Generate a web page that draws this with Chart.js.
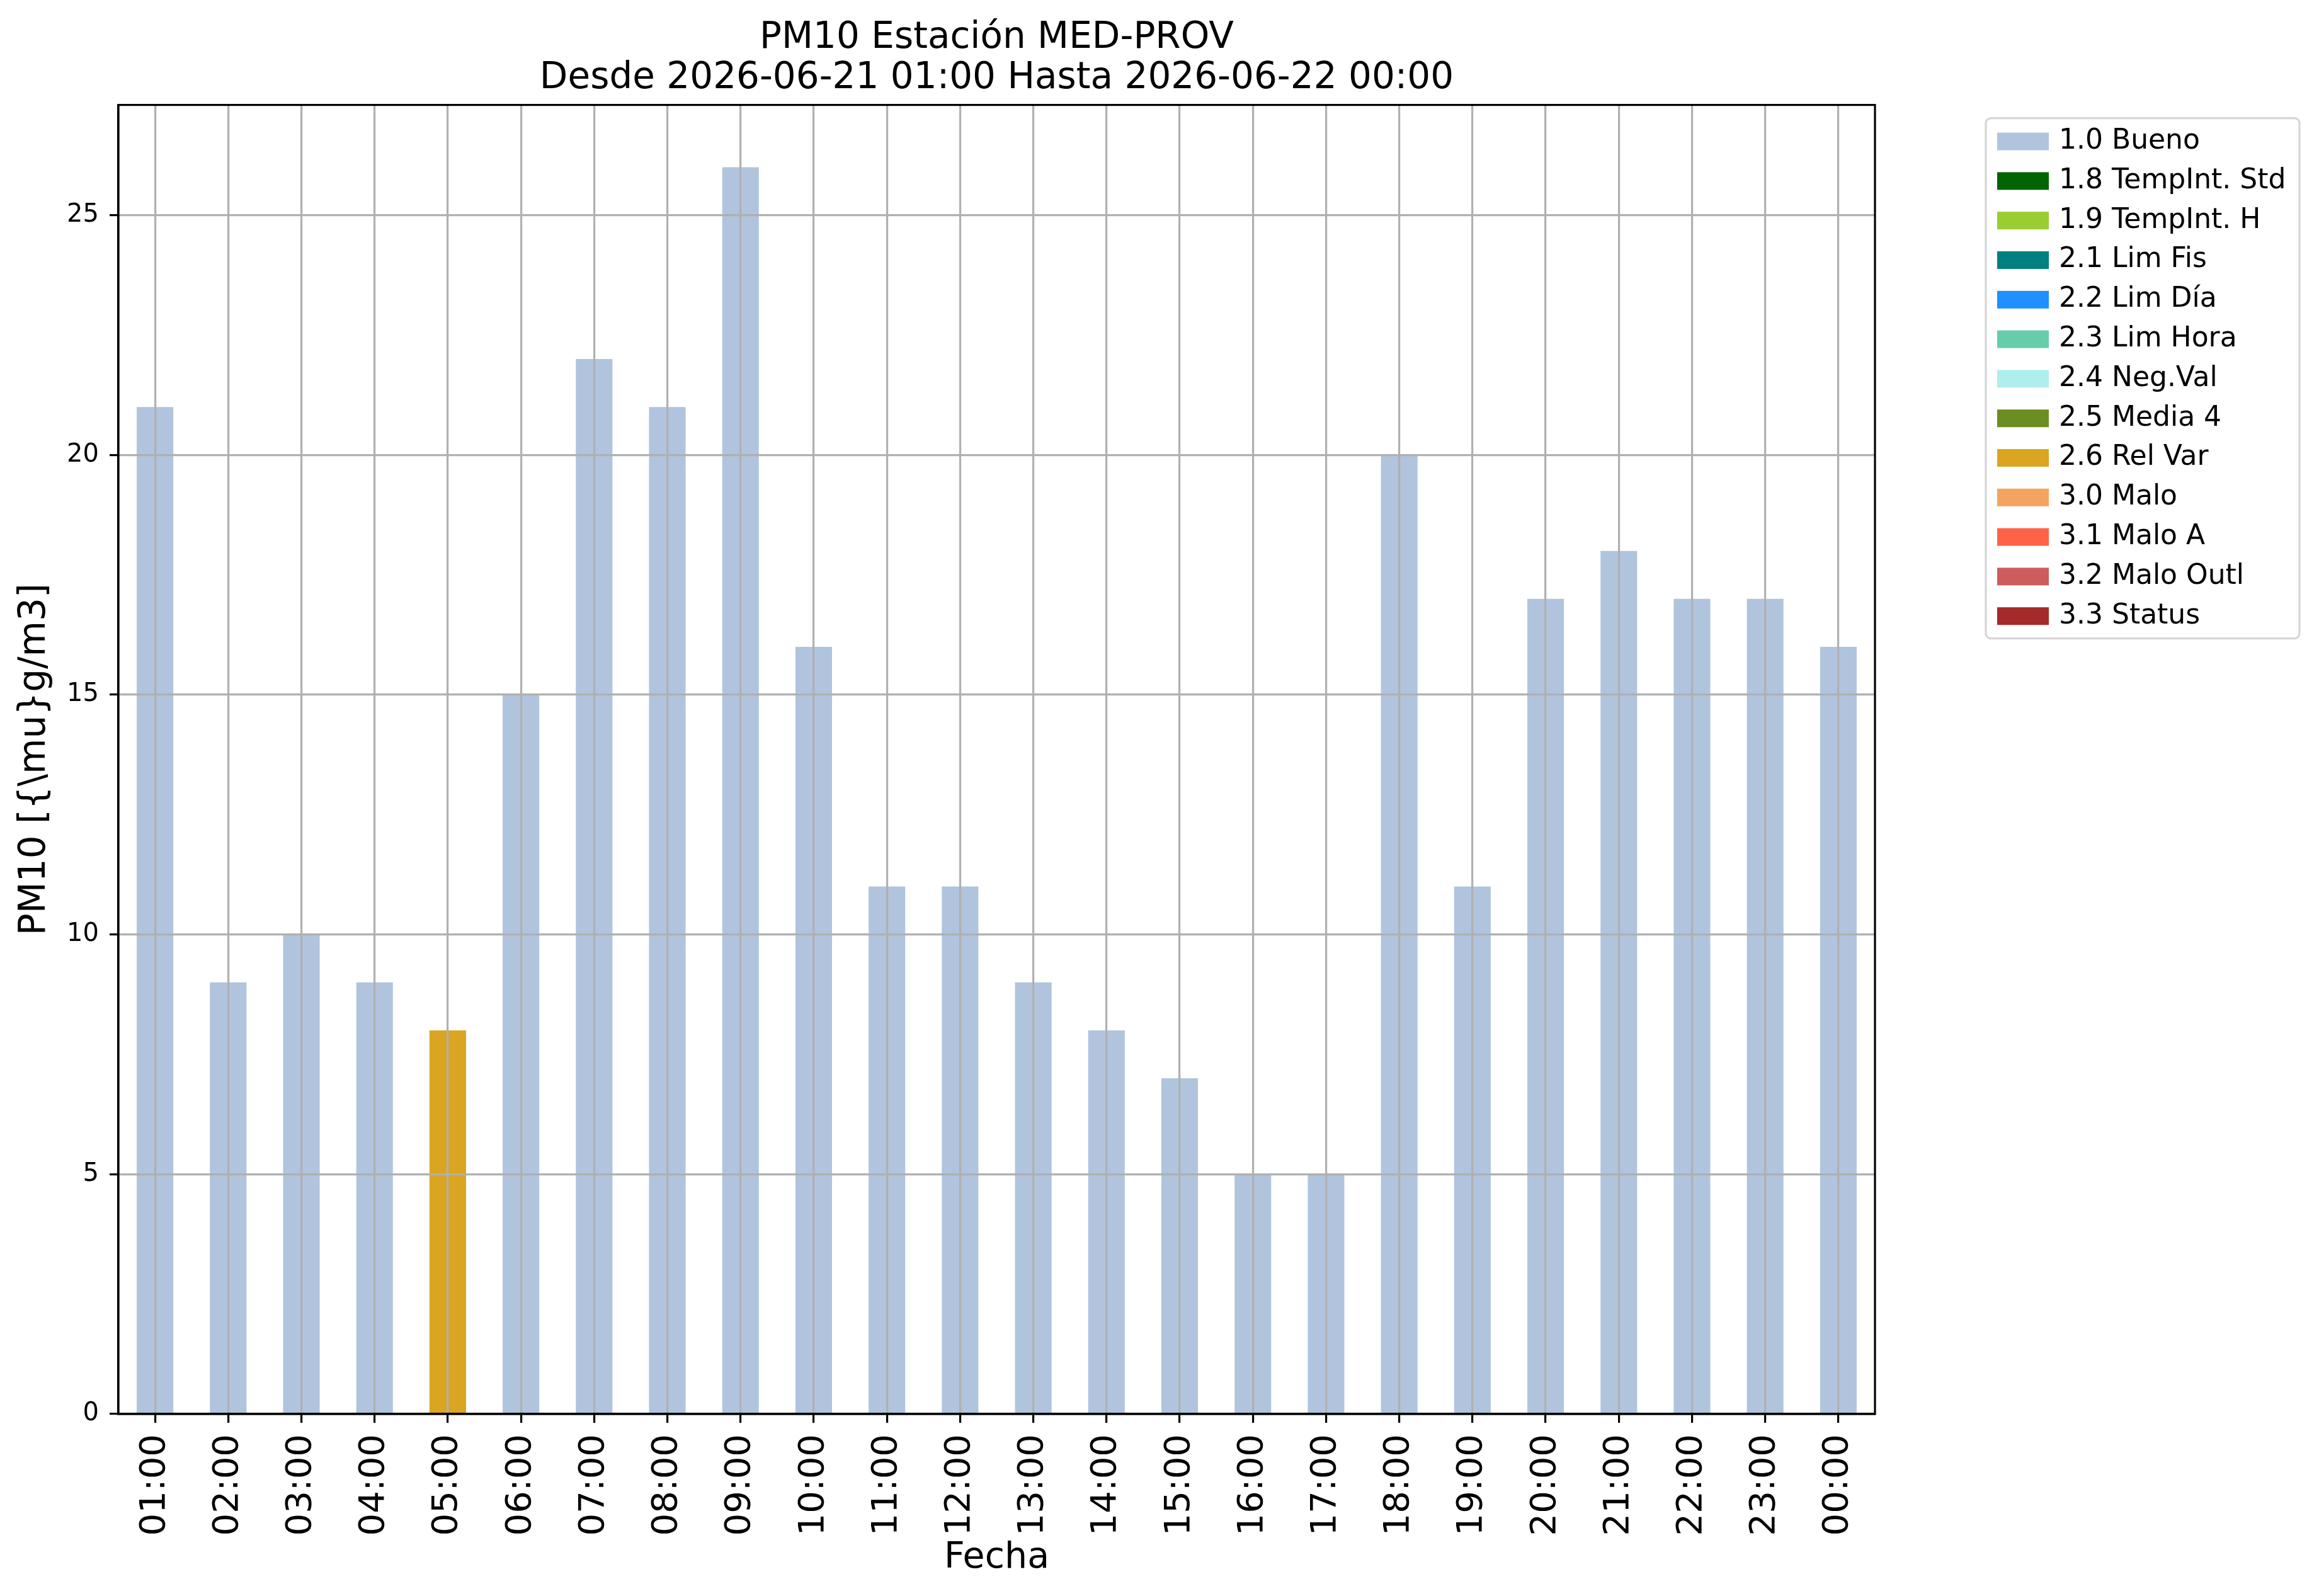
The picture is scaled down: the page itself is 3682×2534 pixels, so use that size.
<!DOCTYPE html>
<html>
<head>
<meta charset="utf-8">
<script src="https://cdn.jsdelivr.net/npm/chart.js@4.4.1/dist/chart.umd.min.js"></script>
<style>
  html, body { margin: 0; padding: 0; background: #fff; }
  canvas { display: block; }
</style>
</head>
<body>
<canvas id="grafico" width="3682" height="2534"></canvas>
<script>
// horas del día y valores horarios de PM10
const horas = ["01:00", "02:00", "03:00", "04:00", "05:00", "06:00", "07:00", "08:00",
  "09:00", "10:00", "11:00", "12:00", "13:00", "14:00", "15:00", "16:00", "17:00",
  "18:00", "19:00", "20:00", "21:00", "22:00", "23:00", "00:00"];
const valores = [21, 9, 10, 9, 8, 15, 22, 21, 26, 16, 11, 11, 9, 8, 7, 5, 5, 20, 11, 17, 18, 17, 17, 16];
// bandera de validación de cada hora
const banderas = ["1.0", "1.0", "1.0", "1.0", "2.6", "1.0", "1.0", "1.0", "1.0", "1.0", "1.0", "1.0",
  "1.0", "1.0", "1.0", "1.0", "1.0", "1.0", "1.0", "1.0", "1.0", "1.0", "1.0", "1.0"];

const codigos = ["1.0", "1.8", "1.9", "2.1", "2.2", "2.3", "2.4", "2.5", "2.6", "3.0", "3.1", "3.2", "3.3"];
const nombres = ["1.0 Bueno", "1.8 TempInt. Std", "1.9 TempInt. H", "2.1 Lim Fis", "2.2 Lim Día",
  "2.3 Lim Hora", "2.4 Neg.Val", "2.5 Media 4", "2.6 Rel Var", "3.0 Malo", "3.1 Malo A",
  "3.2 Malo Outl", "3.3 Status"];
const colores = ["#b0c4de", "#006400", "#9acd32", "#008080", "#1e90ff", "#66cdaa", "#afeeee",
  "#6b8e23", "#daa520", "#f4a460", "#ff6347", "#cd5c5c", "#a52a2a"];

const titulo = ["PM10 Estación MED-PROV", "Desde 2026-06-21 01:00 Hasta 2026-06-22 00:00"];

Chart.defaults.font.family = "'DejaVu Sans', sans-serif";
Chart.defaults.color = "#000";

const datasets = codigos.map((cod, i) => ({
  label: nombres[i],
  data: valores.map((v, j) => (banderas[j] === cod ? v : null)),
  backgroundColor: colores[i],
  borderWidth: 0,
  barPercentage: 0.5,
  categoryPercentage: 1.0,
}));

// marco de los ejes y leyenda al estilo matplotlib
const marcoYLeyenda = {
  id: "marcoYLeyenda",
  afterDraw(chart) {
    const { ctx, chartArea: a } = chart;
    ctx.save();
    ctx.strokeStyle = "#000";
    ctx.lineWidth = 3.2;
    ctx.strokeRect(a.left, a.top, a.right - a.left, a.bottom - a.top);

    const x0 = a.right + 176, y0 = a.top + 21, w = 498, h = 826;
    ctx.beginPath();
    ctx.roundRect(x0, y0, w, h, 8);
    ctx.fillStyle = "#fff";
    ctx.fill();
    ctx.strokeStyle = "#d6d6d6";
    ctx.lineWidth = 3.2;
    ctx.stroke();

    ctx.font = "44px 'DejaVu Sans'";
    ctx.textBaseline = "middle";
    ctx.textAlign = "left";
    chart.data.datasets.forEach((ds, i) => {
      const cy = y0 + 37 + i * 62.8;
      ctx.fillStyle = ds.backgroundColor;
      ctx.fillRect(x0 + 18, cy - 14, 82, 28);
      ctx.fillStyle = "#000";
      ctx.fillText(ds.label, x0 + 116, cy);
    });
    ctx.restore();
  },
};

new Chart(document.getElementById("grafico"), {
  type: "bar",
  data: { labels: horas, datasets },
  options: {
    responsive: false,
    animation: false,
    devicePixelRatio: 1,
    layout: { padding: { left: 0, right: 705, top: 0, bottom: 0 } },
    plugins: {
      legend: { display: false },
      tooltip: { enabled: false },
      title: {
        display: true,
        fullSize: false,
        text: titulo,
        color: "#000",
        font: { size: 58, weight: "normal", lineHeight: 1.1 },
        padding: { top: 29, bottom: 10 },
      },
    },
    scales: {
      x: {
        stacked: true,
        offset: true,
        grid: { z: 1, offset: false, color: "#b0b0b0", lineWidth: 3.2, tickColor: "#000", tickLength: 14, tickWidth: 3.2 },
        border: { display: true, color: "#000", width: 3.2, z: 2 },
        ticks: { z: 2, autoSkip: false, minRotation: 90, maxRotation: 90, font: { size: 56 }, color: "#000", padding: 18 },
        title: { display: true, text: "Fecha", color: "#000", font: { size: 57 }, padding: { top: 0, bottom: 26 } },
        afterFit(s) { s.height = 289; },
      },
      y: {
        stacked: true,
        min: 0,
        max: 27.3,
        grid: { z: 1, color: "#b0b0b0", lineWidth: 3.2, tickColor: "#000", tickLength: 14, tickWidth: 3.2 },
        border: { display: true, color: "#000", width: 3.2, z: 2 },
        ticks: { z: 2, stepSize: 5, includeBounds: false, font: { size: 40 }, color: "#000", padding: 17 },
        title: { display: true, text: "PM10 [{\\mu}g/m3]", color: "#000", font: { size: 58 }, padding: { top: 21, bottom: 0 } },
        afterFit(s) { s.width = 188; },
      },
    },
  },
  plugins: [marcoYLeyenda],
});
</script>
</body>
</html>
